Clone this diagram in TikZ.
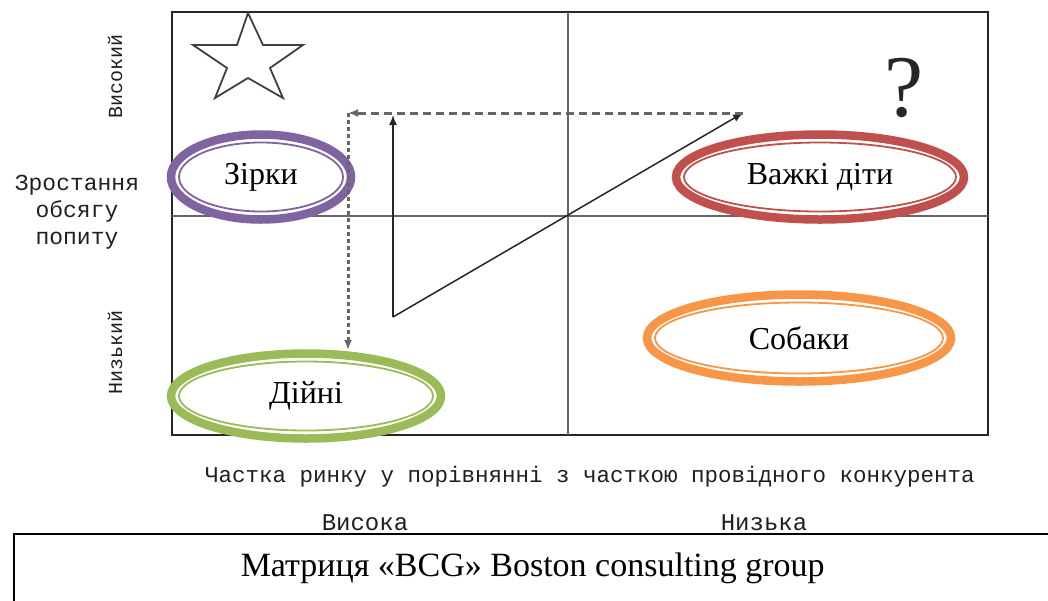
\documentclass[tikz,border=0pt]{standalone}
\usepackage{fontspec}
\setmainfont{Liberation Serif}
\newfontfamily\axisfont{Liberation Mono}
\usetikzlibrary{
    shapes.geometric,
    arrows.meta,
    positioning
}
\definecolor{bcgpurple}{RGB}{128, 100, 162}
\definecolor{bcgred}{RGB}{192, 80, 77}
\definecolor{bcggreen}{RGB}{155, 187, 89}
\definecolor{bcgorange}{RGB}{247, 150, 70}

\begin{document}
\begin{tikzpicture}[x=1pt, y=-1pt,
        quadrant/.style={draw, ellipse, fill=white, line width=8.5pt, inner sep=0pt, minimum height=85, font=\fontsize{32}{32}\selectfont},
        ring/.style={line width=1.8pt},
        axislabel/.style={inner sep=0pt, text=black!88, align=center},
        move/.style={-{Latex[length=10pt, width=8pt]}, line width=1.5pt, black!85},
        drift/.style={-{Latex[length=10pt, width=8pt]}, line width=3pt, black!60, dash pattern=on 8pt off 5pt},
        drop/.style={drift, dash pattern=on 4pt off 3pt}
    ]
        \useasboundingbox (0,0) rectangle (1048,600);

        % Matrix frame
        \coordinate (nw) at (172,12);
        \coordinate (se) at (988,435);
        \coordinate (centre) at (568,216);
        \draw[line width=1.5pt, black!85] (nw) rectangle (se);
        \draw[line width=2pt, black!60] (centre |- nw) -- (centre |- se);
        \draw[line width=2pt, black!60] (centre -| nw) -- (centre -| se);

        % Star and question mark
        \draw[line width=1.8pt, black!75] (248,13) -- (263,45) -- (303,45) -- (270,68) -- (283,98)
            -- (248,78) -- (215,98) -- (227,68) -- (193,45) -- (237,45) -- cycle;
        \node[inner sep=0pt, text=black!85, font=\fontsize{88}{88}\selectfont] (puzzle) at (904,88) {?};

        % Quadrants
        \node[quadrant, draw=bcgpurple, minimum width=180] (zirky) at (261,177) {Зірки};
        \draw[bcgpurple, ring] (zirky.center) ellipse [x radius=82, y radius=34.5];

        \node[quadrant, draw=bcgred, minimum width=288] (vazhki) at (820,177) {Важкі діти};
        \draw[bcgred, ring] (vazhki.center) ellipse [x radius=136, y radius=34.5];

        \node[quadrant, draw=bcggreen, minimum width=270] (dijni) at (306,396) {Дійні};
        \draw[bcggreen, ring] (dijni.center) ellipse [x radius=127, y radius=34.5];

        \node[quadrant, draw=bcgorange, minimum width=304, minimum height=87] (sobaky) at (799,338) {Собаки};
        \draw[bcgorange, ring] (sobaky.center) ellipse [x radius=144, y radius=35.5];

        % Movement of the product
        \coordinate (pivot) at (393,317);
        \coordinate (rise) at (393,115);
        \coordinate (target) at (743,113);
        \coordinate (corner) at (348,113);
        \coordinate (cash) at (348,350);
        \draw[move] (pivot) -- (rise);
        \draw[move] (pivot) -- (target);
        \draw[drift] (target) -- (corner);
        \draw[drop] (corner) -- (cash);

        % Axis labels
        \node[axislabel, rotate=90, font=\axisfont\fontsize{20}{20}\selectfont] (high) at (115,76) {Високий};
        \node[axislabel, rotate=90, font=\axisfont\fontsize{20}{20}\selectfont] (low) at (115,352) {Низький};
        \node[axislabel, font=\axisfont\fontsize{23}{27}\selectfont] (growth) at (77,212) {Зростання\\обсягу\\попиту};
        \node[axislabel, font=\axisfont\fontsize{22.5}{22.5}\selectfont] (share) at (590,477) {Частка ринку у порівнянні з часткою провідного конкурента};
        \node[axislabel, font=\axisfont\fontsize{24}{24}\selectfont] (highshare) at (365,523) {Висока};
        \node[axislabel, font=\axisfont\fontsize{24}{24}\selectfont] (lowshare) at (764,523) {Низька};

        % Caption
        \node[draw, line width=1.5pt, anchor=north west, minimum width=1038, minimum height=70,
            font=\fontsize{34}{34}\selectfont] (caption) at (13,533) {Матриця «BCG» Boston consulting group};
    \end{tikzpicture}
\end{document}
